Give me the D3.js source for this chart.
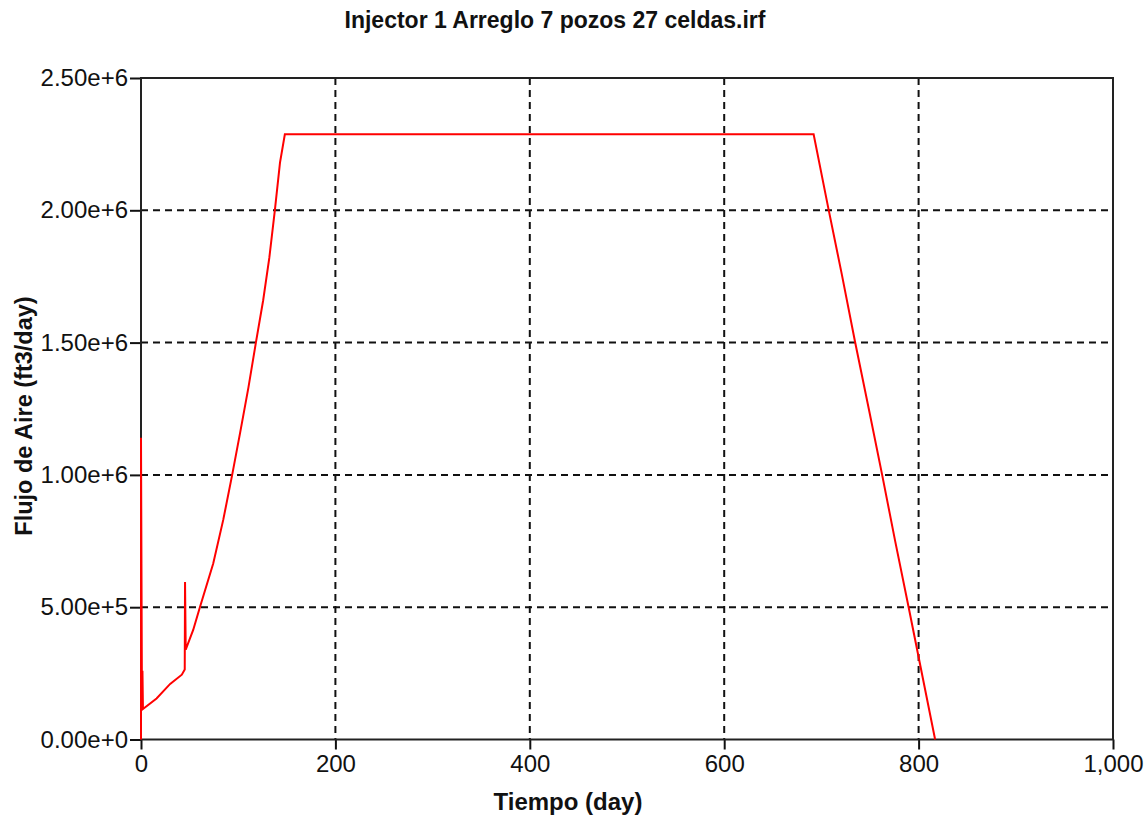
<!DOCTYPE html>
<html>
<head>
<meta charset="utf-8">
<script src="https://cdn.jsdelivr.net/npm/d3@7"></script>
<style>
  body { margin: 0; background: #fff; }
  svg { display: block; font-family: "Liberation Sans", Arial, sans-serif; }
</style>
</head>
<body>
<script>
// Datos (tiempo en días, flujo en ft3/day)
var TIEMPO = [0, 0, 1, 1.5, 2, 16, 30, 42, 45, 45.3, 46, 53.7, 60.6, 74.3, 84.6, 93.8, 102, 110.5, 118.2, 125.7, 132, 137.7, 143, 148, 692, 707, 721, 734.5, 749, 762.5, 776, 790, 817];
var FLUJO = [0, 1140000, 120000, 260000, 115000, 155000, 210000, 245000, 265000, 595000, 340000, 414000, 500000, 665000, 830000, 1000000, 1160000, 1330000, 1500000, 1660000, 1820000, 2000000, 2180000, 2287000, 2287000, 2010000, 1758000, 1505000, 1245000, 1000000, 748000, 495000, 0];

var X_TICKS = [0, 200, 400, 600, 800, 1000];
var Y_TICKS = [0, 500000, 1000000, 1500000, 2000000, 2500000];

var TITULO = "Injector 1 Arreglo 7 pozos 27 celdas.irf";
var X_LABEL = "Tiempo (day)";
var Y_LABEL = "Flujo de Aire (ft3/day)";

var W = 1148;
var H = 817;
var margin = { top: 78, right: 35, bottom: 77.5, left: 141 };
var width = W - margin.left - margin.right;
var height = H - margin.top - margin.bottom;

var svg = d3.select("body").append("svg").attr("width", W).attr("height", H);

var xScale = d3.scaleLinear().domain([0, 1000]).range([margin.left, margin.left + width]);
var yScale = d3.scaleLinear().domain([0, 2500000]).range([margin.top + height, margin.top]);

// Rejilla punteada
svg.append("g").selectAll("line").data(X_TICKS.slice(1, -1)).enter().append("line")
  .attr("x1", function (d) { return xScale(d); }).attr("x2", function (d) { return xScale(d); })
  .attr("y1", margin.top).attr("y2", margin.top + height)
  .attr("stroke", "#111").attr("stroke-width", 2).attr("stroke-dasharray", "7,5");

svg.append("g").selectAll("line").data(Y_TICKS.slice(1, -1)).enter().append("line")
  .attr("y1", function (d) { return yScale(d); }).attr("y2", function (d) { return yScale(d); })
  .attr("x1", margin.left).attr("x2", margin.left + width)
  .attr("stroke", "#111").attr("stroke-width", 2).attr("stroke-dasharray", "7,5");

// Ejes
var xAxis = svg.append("g").attr("transform", "translate(0," + (margin.top + height) + ")")
  .call(d3.axisBottom(xScale).tickValues(X_TICKS).tickFormat(d3.format(",")).tickSize(10).tickSizeOuter(0));
var yAxis = svg.append("g").attr("transform", "translate(" + margin.left + ",0)")
  .call(d3.axisLeft(yScale).tickValues(Y_TICKS).tickFormat(d3.format(".2e")).tickSize(11).tickSizeOuter(0));

[xAxis, yAxis].forEach(function (a) {
  a.select(".domain").remove();
  a.selectAll(".tick line").attr("stroke", "#111").attr("stroke-width", 2);
  a.selectAll(".tick text").attr("fill", "#111").style("font-size", "24px").style("font-family", "'Liberation Sans', Arial, sans-serif");
});
xAxis.selectAll(".tick text").attr("y", 15);
yAxis.selectAll(".tick text").attr("x", -13);

// Marco
svg.append("rect").attr("x", margin.left).attr("y", margin.top).attr("width", width).attr("height", height)
  .attr("fill", "none").attr("stroke", "#222").attr("stroke-width", 2);

// Serie
var datos = TIEMPO.map(function (t, i) { return [t, FLUJO[i]]; });
var linea = d3.line().x(function (d) { return xScale(d[0]); }).y(function (d) { return yScale(d[1]); });
svg.append("path").datum(datos).attr("d", linea).attr("fill", "none").attr("stroke", "#ff0000").attr("stroke-width", 2);

// Textos
svg.append("text").text(TITULO).attr("x", 555).attr("y", 28).attr("text-anchor", "middle")
  .style("font-size", "23px").style("font-weight", "bold").attr("fill", "#111");
svg.append("text").text(X_LABEL).attr("x", 568).attr("y", 810).attr("text-anchor", "middle")
  .style("font-size", "24px").style("font-weight", "bold").attr("fill", "#111");
svg.append("text").text(Y_LABEL).attr("transform", "translate(32,416) rotate(-90)").attr("text-anchor", "middle")
  .style("font-size", "23.5px").style("font-weight", "bold").attr("fill", "#111");
</script>
</body>
</html>
